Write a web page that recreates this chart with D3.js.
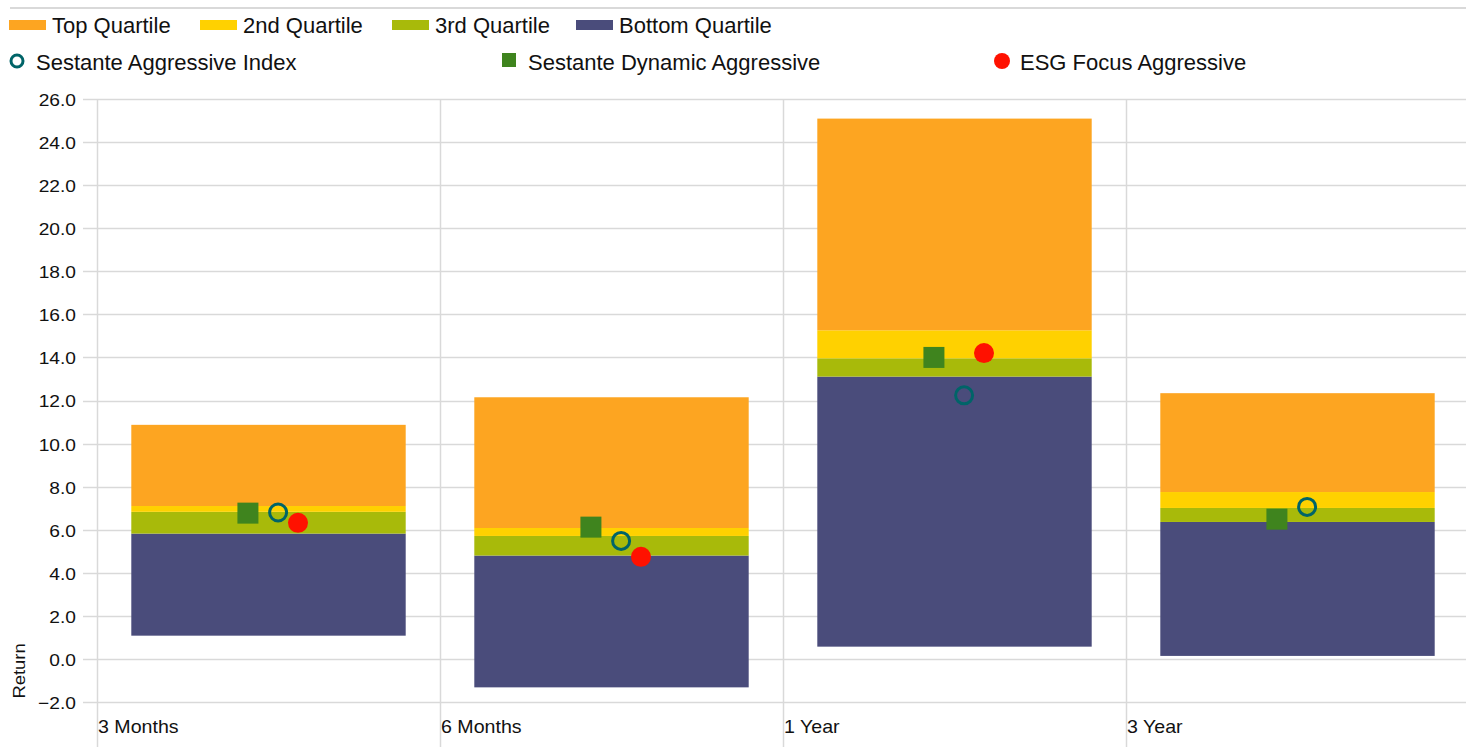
<!DOCTYPE html>
<html>
<head>
<meta charset="utf-8">
<script src="https://cdn.jsdelivr.net/npm/d3@7"></script>
<style>
  html, body { margin: 0; padding: 0; background: #fff; }
  svg { display: block; font-family: "Liberation Sans", Arial, sans-serif; }
</style>
</head>
<body>
<svg id="chart" width="1466" height="747"></svg>
<script>
// Return ranges by period: quartile boundaries and fund returns
const categories = ["3 Months", "6 Months", "1 Year", "3 Year"];
const quartileMin   = [1.08, -1.32, 0.57, 0.14];   // bottom of bottom quartile
const bottomUpper   = [5.82, 4.80, 13.11, 6.36];   // bottom quartile upper edge
const thirdUpper    = [6.83, 5.71, 13.96, 7.01];   // 3rd quartile upper edge
const secondUpper   = [7.10, 6.08, 15.26, 7.75];   // 2nd quartile upper edge
const quartileMax   = [10.87, 12.15, 25.09, 12.34]; // top of top quartile

const aggressiveIndex   = [6.80, 5.48, 12.24, 7.06];
const dynamicAggressive = [6.77, 6.12, 14.00, 6.49];
const esgFocus          = [6.32, 4.74, 14.20, null];

const yTicks = [-2, 0, 2, 4, 6, 8, 10, 12, 14, 16, 18, 20, 22, 24, 26];

const colors = {
  top: "#FDA521", second: "#FFD100", third: "#A8BA0A", bottom: "#4A4C7B",
  index: "#006468", dynamic: "#3F841E", esg: "#FF1100", grid: "#D9D9D9"
};

const svg = d3.select("#chart");

const x = d3.scaleBand().domain(categories).range([97, 1469]).paddingInner(0).paddingOuter(0);
const y = d3.scaleLinear().domain([-2, 26]).range([702, 99]);
const bw = x.bandwidth();

// top rule
svg.append("line").attr("x1", 10).attr("x2", 1466).attr("y1", 8).attr("y2", 8)
  .attr("stroke", colors.grid).attr("stroke-width", 2);

// horizontal gridlines with tick stubs
const gGrid = svg.append("g");
gGrid.selectAll("line.h").data(yTicks).join("line")
  .attr("class", "h")
  .attr("x1", 83).attr("x2", 1466)
  .attr("y1", d => Math.round(y(d)) + 0.5).attr("y2", d => Math.round(y(d)) + 0.5)
  .attr("stroke", colors.grid).attr("stroke-width", 1.5);

// vertical gridlines at category boundaries
gGrid.selectAll("line.v").data(categories).join("line")
  .attr("class", "v")
  .attr("x1", d => Math.round(x(d)) + 0.5).attr("x2", d => Math.round(x(d)) + 0.5)
  .attr("y1", y(26)).attr("y2", 747)
  .attr("stroke", colors.grid).attr("stroke-width", 1.5);

// axis text is drawn slightly wide
const axisStretch = 1.13;

// y tick labels
svg.append("g").selectAll("text").data(yTicks).join("text")
  .attr("transform", d => `translate(76,${y(d) + 1}) scale(${axisStretch},1)`)
  .attr("dy", "0.35em")
  .attr("text-anchor", "end")
  .attr("font-size", 17).attr("fill", "#111")
  .text(d => d3.format(".1f")(d));

// category labels, left aligned within each band
svg.append("g").selectAll("text").data(categories).join("text")
  .attr("transform", d => `translate(${x(d) + 1},727) scale(1.06,1)`)
  .attr("dy", "0.35em")
  .attr("font-size", 18.5).attr("fill", "#111")
  .text(d => d);

// y axis title
svg.append("text")
  .attr("transform", `translate(25,671) rotate(-90) scale(${axisStretch},1)`)
  .attr("text-anchor", "middle")
  .attr("font-size", 16.3).attr("fill", "#111")
  .text("Return");

// floating stacked quartile bars
const segments = [
  { key: "bottom", lo: quartileMin, hi: bottomUpper },
  { key: "third", lo: bottomUpper, hi: thirdUpper },
  { key: "second", lo: thirdUpper, hi: secondUpper },
  { key: "top", lo: secondUpper, hi: quartileMax }
];
const gBars = svg.append("g");
segments.forEach(seg => {
  gBars.append("g").selectAll("rect").data(categories).join("rect")
    .attr("x", d => x(d) + bw * 0.1)
    .attr("width", bw * 0.8)
    .attr("y", (d, i) => y(seg.hi[i]))
    .attr("height", (d, i) => y(seg.lo[i]) - y(seg.hi[i]))
    .attr("fill", colors[seg.key]);
});

// fund return markers, each series at its own position inside the band
const markerOffset = { dynamic: 0.44, index: 0.528, esg: 0.586 };
const gMarks = svg.append("g");

gMarks.selectAll("rect.dyn").data(categories).join("rect")
  .attr("class", "dyn")
  .attr("x", d => x(d) + bw * markerOffset.dynamic - 10.5)
  .attr("y", (d, i) => y(dynamicAggressive[i]) - 10.5)
  .attr("width", 21).attr("height", 21)
  .attr("fill", colors.dynamic);

gMarks.selectAll("circle.idx").data(categories).join("circle")
  .attr("class", "idx")
  .attr("cx", d => x(d) + bw * markerOffset.index)
  .attr("cy", (d, i) => y(aggressiveIndex[i]))
  .attr("r", 8.5)
  .attr("fill", "none").attr("stroke", colors.index).attr("stroke-width", 3);

gMarks.selectAll("circle.esg")
  .data(categories.map((c, i) => ({ c, v: esgFocus[i] })).filter(d => d.v != null))
  .join("circle")
  .attr("class", "esg")
  .attr("cx", d => x(d.c) + bw * markerOffset.esg)
  .attr("cy", d => y(d.v))
  .attr("r", 10)
  .attr("fill", colors.esg);

// legend
const legendFont = 22;
const legendBars = [
  { label: "Top Quartile", key: "top", x: 9 },
  { label: "2nd Quartile", key: "second", x: 200 },
  { label: "3rd Quartile", key: "third", x: 392 },
  { label: "Bottom Quartile", key: "bottom", x: 576 }
];
const gLeg = svg.append("g");
legendBars.forEach(l => {
  gLeg.append("rect").attr("x", l.x).attr("y", 20).attr("width", 37).attr("height", 10)
    .attr("fill", colors[l.key]);
  gLeg.append("text").attr("x", l.x + 43).attr("y", 25).attr("dy", "0.35em")
    .attr("font-size", legendFont).attr("fill", "#111").text(l.label);
});

gLeg.append("circle").attr("cx", 17).attr("cy", 61).attr("r", 6)
  .attr("fill", "none").attr("stroke", colors.index).attr("stroke-width", 3);
gLeg.append("text").attr("x", 36).attr("y", 62).attr("dy", "0.35em")
  .attr("font-size", legendFont).attr("fill", "#111").text("Sestante Aggressive Index");

gLeg.append("rect").attr("x", 502).attr("y", 53).attr("width", 14).attr("height", 14)
  .attr("fill", colors.dynamic);
gLeg.append("text").attr("x", 528).attr("y", 62).attr("dy", "0.35em")
  .attr("font-size", legendFont).attr("fill", "#111").text("Sestante Dynamic Aggressive");

gLeg.append("circle").attr("cx", 1002).attr("cy", 61).attr("r", 8)
  .attr("fill", colors.esg);
gLeg.append("text").attr("x", 1020).attr("y", 62).attr("dy", "0.35em")
  .attr("font-size", legendFont).attr("fill", "#111").text("ESG Focus Aggressive");
</script>
</body>
</html>
